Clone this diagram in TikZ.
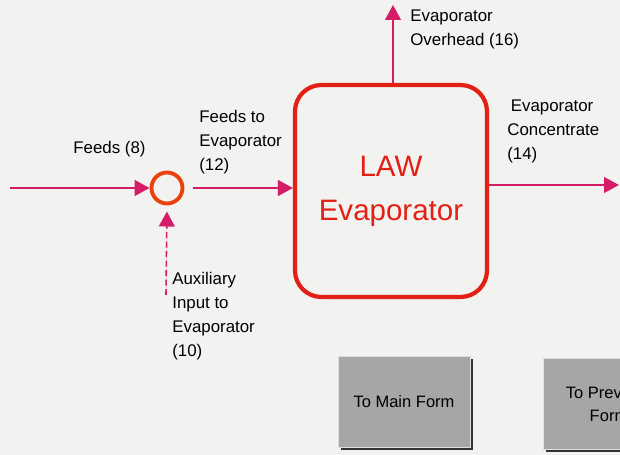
\documentclass[tikz,border=0pt]{standalone}
\usepackage{fontspec}
\setmainfont{Liberation Sans}
\usetikzlibrary{arrows.meta,positioning}

\definecolor{flowpink}{RGB}{212,28,104}
\definecolor{evapred}{RGB}{226,32,20}
\definecolor{mixred}{RGB}{234,66,12}
\definecolor{btngray}{RGB}{166,166,164}
\definecolor{paper}{RGB}{242,242,240}

\begin{document}
\begin{tikzpicture}[
  x=0.02cm, y=-0.02cm,
  >={Triangle[length=8.5pt,width=9pt]},
  every node/.style={font=\fontsize{9.6}{13.6}\selectfont},
  flow/.style={->, draw=flowpink, fill=flowpink, line width=0.9pt},
  lbl/.style={anchor=north west, inner sep=0pt, align=left},
  evapbox/.style={draw=evapred, line width=2.4pt, rounded corners=15pt,
                  minimum width=3.84cm, minimum height=4.24cm, align=center,
                  text=evapred, font=\fontsize{16.8}{25}\selectfont},
  mixer/.style={circle, draw=mixred, line width=2.2pt, minimum size=0.62cm,
                inner sep=0pt},
  btn/.style={fill=btngray, draw=gray!25, line width=0.5pt,
              minimum width=2.64cm, minimum height=1.82cm, align=center,
              font=\fontsize{9.4}{12.8}\selectfont,
              preaction={fill=black!80, draw=none,
                         transform canvas={xshift=1.6pt, yshift=-1.6pt}}}
]
  \useasboundingbox (0,0) rectangle (620,455);
  \clip (0,0) rectangle (620,455);
  \fill[paper] (0,0) rectangle (620,455);

  % units and streams
  \node[mixer] (mix) at (167,188) {};
  \node[evapbox] (evap) at (391,191) {LAW\\Evaporator};

  \coordinate (feedsrc) at (10,188);
  \coordinate (auxsrc) at (166,295);
  \coordinate (ovhd) at (393,5);
  \coordinate (conc) at (619,185);

  \draw[flow] (feedsrc) -- (mix.west);
  \draw[flow, shorten <=5pt] (mix.east) -- (mix.east -| evap.west);
  \draw[flow, dash pattern=on 3.4pt off 2pt, shorten >=3.5pt] (auxsrc) -- (mix.south);
  \draw[flow] (ovhd |- evap.north) -- (ovhd);
  \draw[flow] (evap.east |- conc) -- (conc);

  % stream labels
  \node[lbl] (feedslbl) at (73,141) {Feeds (8)};
  \node[lbl] (tolbl) at (199,110) {Feeds to\\Evaporator\\(12)};
  \node[lbl] (auxlbl) at (172,272) {Auxiliary\\Input to\\Evaporator\\(10)};
  \node[lbl] (ovhdlbl) at (410,10) {Evaporator\\Overhead (16)};
  \node[lbl] (conclbl) at (507,100) {\hspace{2pt}Evaporator\\Concentrate\\(14)};

  % buttons
  \node[btn] (mainbtn) at (404,402) {To Main Form};
  \node[btn] (prevbtn) at (609,404) {To Previous\\Form};
\end{tikzpicture}
\end{document}
